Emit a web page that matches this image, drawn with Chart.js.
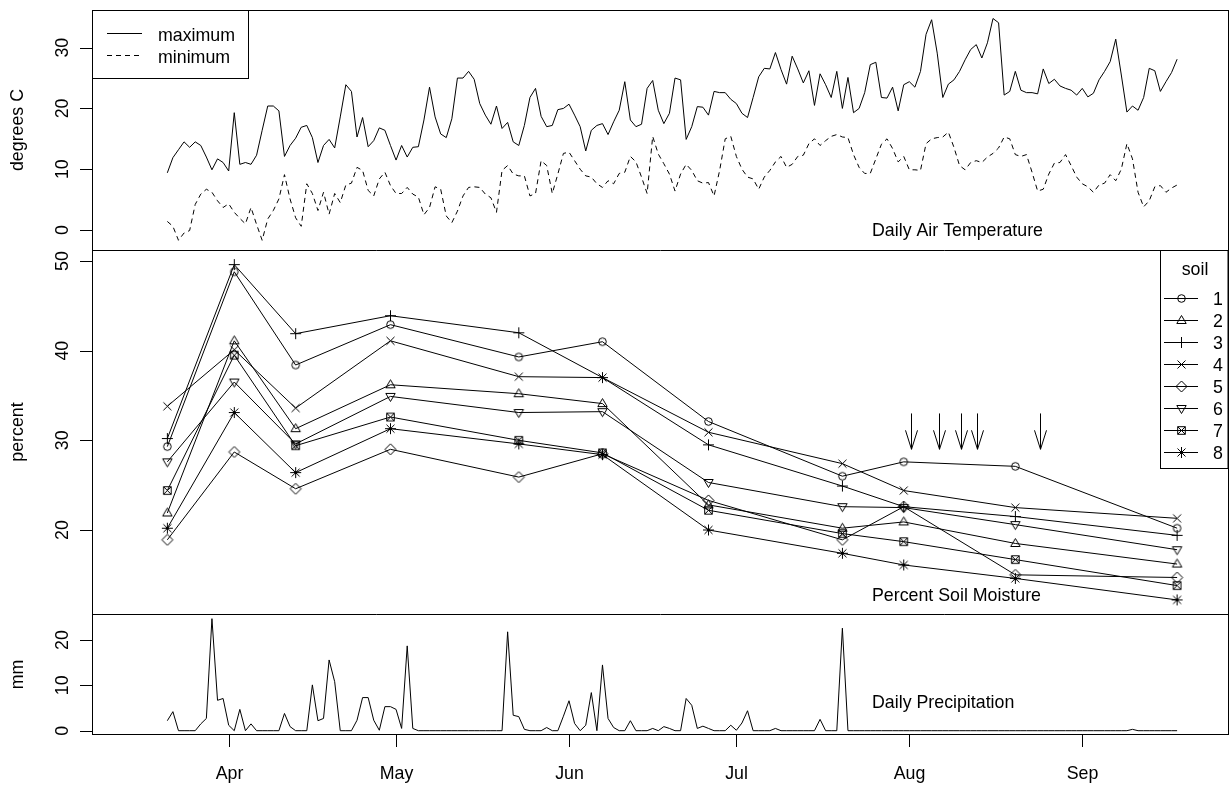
<!DOCTYPE html>
<html><head><meta charset="utf-8">
<script src="https://cdn.jsdelivr.net/npm/chart.js@4.4.1/dist/chart.umd.min.js"></script>
<style>html,body{margin:0;padding:0;background:#fff;} canvas{display:block;}</style>
</head><body>
<canvas id="c" width="1231" height="786"></canvas>
<script>
// ---- data ----
const FIRST_DAY = 80; // day of year of first daily value (21 March)
const tmax = [
 9.4, 11.9, 13.2, 14.5, 13.6, 14.5, 13.9, 12.0, 9.9, 11.7,
 11.1, 9.7, 19.3, 10.8, 11.1, 10.8, 12.3, 16.4, 20.4, 20.4,
 19.6, 12.1, 13.9, 15.1, 16.9, 17.2, 15.2, 11.1, 13.9, 14.9,
 13.5, 18.6, 23.9, 22.8, 15.3, 18.5, 13.7, 14.7, 16.8, 16.4,
 13.9, 11.5, 13.9, 12.0, 13.6, 13.7, 18.1, 23.5, 18.6, 15.8,
 15.2, 18.3, 25.0, 25.0, 26.1, 24.8, 20.8, 18.9, 17.4, 20.4,
 16.7, 17.7, 14.5, 13.9, 17.2, 21.8, 23.3, 18.7, 17.0, 17.2,
 19.8, 20.0, 20.7, 18.9, 17.0, 13.0, 16.4, 17.2, 17.5, 15.7,
 17.8, 19.7, 24.4, 18.1, 17.0, 17.4, 23.3, 24.6, 19.7, 17.5,
 19.2, 25.0, 24.7, 14.9, 17.0, 20.3, 20.2, 18.9, 22.8, 22.6,
 22.6, 21.5, 20.8, 19.2, 18.5, 21.8, 25.2, 26.6, 26.5, 29.2,
 26.4, 24.0, 28.6, 26.5, 24.2, 26.2, 20.5, 25.7, 23.9, 21.8,
 26.1, 20.0, 25.1, 19.3, 20.0, 22.6, 27.2, 27.6, 21.8, 21.7,
 23.5, 19.6, 23.9, 24.4, 23.5, 26.1, 32.2, 34.6, 29.1, 21.8,
 24.0, 24.7, 26.1, 28.0, 29.7, 30.5, 28.3, 30.8, 34.8, 34.1,
 22.2, 22.8, 26.1, 23.0, 22.6, 22.6, 22.4, 26.5, 24.1, 24.8,
 23.7, 23.3, 23.0, 22.2, 23.3, 21.9, 22.5, 24.7, 26.1, 27.7,
 31.4, 25.5, 19.4, 20.4, 19.7, 21.8, 26.6, 26.2, 22.8, 24.4,
 25.9, 28.1
];
const tmin = [
 1.4, 0.6, -1.7, -0.5, -0.1, 4.2, 5.9, 6.7, 6.2, 4.8,
 3.7, 4.3, 2.9, 1.9, 1.0, 3.7, 0.9, -1.7, 1.8, 3.2,
 5.1, 9.1, 5.1, 2.0, 0.6, 7.6, 6.0, 3.2, 6.2, 2.6,
 6.0, 4.5, 7.4, 7.7, 10.3, 9.8, 6.5, 5.6, 8.4, 9.5,
 7.3, 6.0, 6.0, 7.0, 5.9, 5.4, 2.5, 3.7, 7.1, 6.7,
 2.3, 1.2, 3.1, 5.6, 7.0, 7.1, 7.0, 5.9, 5.3, 2.9,
 9.8, 10.6, 9.2, 8.9, 8.9, 5.6, 6.0, 11.4, 10.6, 6.0,
 9.2, 12.6, 12.8, 11.4, 10.0, 8.9, 8.7, 7.6, 7.0, 8.1,
 7.6, 9.3, 9.5, 12.1, 11.2, 8.7, 6.0, 15.4, 12.5, 10.9,
 9.2, 6.4, 9.2, 10.8, 9.8, 8.1, 7.7, 7.8, 5.6, 9.8,
 15.0, 15.4, 12.1, 10.0, 8.7, 8.4, 6.7, 8.7, 9.8, 11.2,
 12.1, 10.3, 10.8, 12.1, 12.3, 14.2, 15.0, 13.9, 14.7, 15.4,
 15.7, 15.3, 15.2, 12.4, 10.3, 9.3, 9.3, 11.7, 14.1, 15.0,
 13.4, 11.2, 12.1, 9.9, 9.9, 9.8, 14.2, 15.0, 15.2, 15.3,
 16.1, 13.6, 10.6, 9.9, 11.1, 11.4, 11.1, 12.0, 12.6, 13.5,
 15.3, 15.0, 12.4, 12.1, 12.4, 9.5, 6.4, 6.7, 9.2, 11.0,
 11.1, 12.4, 10.6, 8.7, 7.6, 7.1, 6.2, 7.4, 7.7, 9.1,
 8.1, 10.0, 14.2, 11.7, 6.2, 3.8, 4.8, 7.1, 7.3, 6.2,
 6.9, 7.4
];
const precip = [
 2.2, 4.2, 0, 0, 0, 0, 1.5, 2.7, 24.7, 6.7,
 7.1, 1.2, 0, 4.7, 0, 1.5, 0, 0, 0, 0,
 0, 3.8, 0.9, 0, 0, 0, 10.1, 2.2, 2.7, 15.6,
 10.8, 0, 0, 0, 2.3, 7.3, 7.3, 2.3, 0.1, 5.3,
 5.3, 4.7, 0.5, 18.7, 0.5, 0, 0, 0, 0, 0,
 0, 0, 0, 0, 0, 0, 0, 0, 0, 0,
 0, 21.8, 3.4, 3.1, 0.3, 0, 0, 0, 0.7, 0,
 0, 3.2, 6.6, 1.6, 0, 1.2, 8.4, 0, 14.5, 2.7,
 0.7, 0, 0, 2.2, 0, 0, 0, 0.5, 0, 0.9,
 0.5, 0, 0, 7.1, 5.6, 0.5, 1.0, 0.5, 0, 0,
 0, 1.2, 0.1, 1.7, 4.4, 0, 0, 0, 0, 0.5,
 0, 0, 0, 0, 0, 0, 0, 2.5, 0, 0,
 0, 22.6, 0, 0, 0, 0, 0, 0, 0, 0,
 0, 0, 0, 0, 0, 0, 0, 0, 0, 0,
 0, 0, 0, 0, 0, 0, 0, 0, 0, 0,
 0, 0, 0, 0, 0, 0, 0, 0, 0, 0,
 0, 0, 0, 0, 0, 0, 0, 0, 0, 0,
 0, 0, 0, 0.3, 0, 0, 0, 0, 0, 0,
 0, 0
];
const soilDays = [80, 92, 103, 120, 143, 158, 177, 201, 212, 232, 261];
const soil1 = [29.3, 48.8, 38.4, 42.9, 39.3, 41.0, 32.1, 26.0, 27.6, 27.1, 20.2];
const soil2 = [21.9, 41.1, 31.3, 36.2, 35.2, 34.1, 22.8, 20.2, 20.9, 18.5, 16.2];
const soil3 = [30.2, 49.6, 41.9, 43.9, 42.0, 37.0, 29.5, 24.9, 22.6, 21.5, 19.4];
const soil4 = [33.8, 40.1, 33.6, 41.1, 37.1, 37.0, 30.9, 27.4, 24.4, 22.5, 21.3];
const soil5 = [18.9, 28.7, 24.6, 29.0, 25.9, 28.5, 23.3, 18.9, 22.6, 15.0, 14.7];
const soil6 = [27.6, 36.5, 29.6, 34.9, 33.1, 33.2, 25.3, 22.6, 22.5, 20.6, 17.8];
const soil7 = [24.4, 39.5, 29.4, 32.6, 30.0, 28.6, 22.2, 19.6, 18.7, 16.7, 13.8];
const soil8 = [20.2, 33.1, 26.4, 31.3, 29.6, 28.4, 20.0, 17.4, 16.1, 14.6, 12.2];
const soilNames = ['1', '2', '3', '4', '5', '6', '7', '8'];
const monthTickDays = [91, 121, 152, 182, 213, 244];
const monthLabels = ['Apr', 'May', 'Jun', 'Jul', 'Aug', 'Sep'];
const tempTicks = [0, 10, 20, 30];
const moistTicks = [20, 30, 40, 50];
const precipTicks = [0, 10, 20];
const arrowDays = [213.3, 218.4, 222.3, 225.2, 236.4];
const arrowTop = 33.0, arrowTip = 29.0;

// ---- symbols (R pch 1..8) ----
function drawSymbol(ctx, kind, x, y) {
  ctx.save();
  ctx.strokeStyle = '#000'; ctx.lineWidth = 1;
  ctx.beginPath();
  switch (kind) {
    case 1: ctx.arc(x, y, 3.8, 0, 2 * Math.PI); break;
    case 2: ctx.moveTo(x, y - 5); ctx.lineTo(x + 4.7, y + 3); ctx.lineTo(x - 4.7, y + 3); ctx.closePath(); break;
    case 3: ctx.moveTo(x - 5.5, y); ctx.lineTo(x + 5.5, y); ctx.moveTo(x, y - 5.5); ctx.lineTo(x, y + 5.5); break;
    case 4: ctx.moveTo(x - 4, y - 4); ctx.lineTo(x + 4, y + 4); ctx.moveTo(x - 4, y + 4); ctx.lineTo(x + 4, y - 4); break;
    case 5: ctx.moveTo(x, y - 5.5); ctx.lineTo(x + 5.5, y); ctx.lineTo(x, y + 5.5); ctx.lineTo(x - 5.5, y); ctx.closePath(); break;
    case 6: ctx.moveTo(x, y + 5); ctx.lineTo(x + 4.7, y - 3); ctx.lineTo(x - 4.7, y - 3); ctx.closePath(); break;
    case 7: ctx.rect(x - 3.8, y - 3.8, 7.6, 7.6);
            ctx.moveTo(x - 3.8, y - 3.8); ctx.lineTo(x + 3.8, y + 3.8);
            ctx.moveTo(x - 3.8, y + 3.8); ctx.lineTo(x + 3.8, y - 3.8); break;
    case 8: ctx.moveTo(x - 5.5, y); ctx.lineTo(x + 5.5, y); ctx.moveTo(x, y - 5.5); ctx.lineTo(x, y + 5.5);
            ctx.moveTo(x - 4, y - 4); ctx.lineTo(x + 4, y + 4); ctx.moveTo(x - 4, y + 4); ctx.lineTo(x + 4, y - 4); break;
  }
  ctx.stroke();
  ctx.restore();
}
function makeSymbol(kind) {
  const c = document.createElement('canvas');
  c.width = 15; c.height = 15;
  drawSymbol(c.getContext('2d'), kind, 7.5, 7.5);
  return c;
}

const daily = arr => arr.map((v, i) => ({x: FIRST_DAY + i, y: v}));
const atSoilDays = arr => arr.map((v, i) => ({x: soilDays[i], y: v}));
const soilSeries = [soil1, soil2, soil3, soil4, soil5, soil6, soil7, soil8];

const datasets = [
  {label: 'maximum', data: daily(tmax), yAxisID: 'yT', borderColor: '#000', borderWidth: 1, pointRadius: 0},
  {label: 'minimum', data: daily(tmin), yAxisID: 'yT', borderColor: '#000', borderWidth: 1, borderDash: [5, 4], pointRadius: 0},
  {label: 'precip', data: daily(precip), yAxisID: 'yB', borderColor: '#000', borderWidth: 1, pointRadius: 0}
];
soilSeries.forEach((s, i) => {
  datasets.push({
    label: soilNames[i], data: atSoilDays(s), yAxisID: 'yM',
    borderColor: '#000', borderWidth: 1,
    pointStyle: makeSymbol(i + 1), pointRadius: 4
  });
});

const FONT = '17.8px "Liberation Sans", Arial, sans-serif';

const decor = {
  id: 'decor',
  afterDatasetsDraw(chart) {
    const ctx = chart.ctx;
    const {left, right, top, bottom} = chart.chartArea;
    const xs = chart.scales.x, yT = chart.scales.yT, yM = chart.scales.yM, yB = chart.scales.yB;
    const px = v => Math.round(v) + 0.5;
    ctx.save();
    ctx.strokeStyle = '#000'; ctx.fillStyle = '#000'; ctx.lineWidth = 1;
    ctx.font = FONT;
    // outer box + separators
    ctx.strokeRect(px(left), px(top), Math.round(right) - Math.round(left) - 1, Math.round(bottom) - Math.round(top) - 1);
    [yM.top, yB.top].forEach(yy => {
      ctx.beginPath(); ctx.moveTo(left, px(yy)); ctx.lineTo(right, px(yy)); ctx.stroke();
    });
    // y ticks + rotated labels
    [[yT, tempTicks], [yM, moistTicks], [yB, precipTicks]].forEach(([sc, ticks]) => {
      ticks.forEach(v => {
        const y = px(sc.getPixelForValue(v));
        ctx.beginPath(); ctx.moveTo(left - 12, y); ctx.lineTo(left, y); ctx.stroke();
        ctx.save();
        ctx.translate(68, sc.getPixelForValue(v));
        ctx.rotate(-Math.PI / 2);
        ctx.textAlign = 'center'; ctx.textBaseline = 'alphabetic';
        ctx.fillText(String(v), 0, 0);
        ctx.restore();
      });
    });
    // y titles
    [[yT, 'degrees C'], [yM, 'percent'], [yB, 'mm']].forEach(([sc, t]) => {
      ctx.save();
      ctx.translate(23, (sc.top + sc.bottom) / 2);
      ctx.rotate(-Math.PI / 2);
      ctx.textAlign = 'center'; ctx.textBaseline = 'alphabetic';
      ctx.fillText(t, 0, 0);
      ctx.restore();
    });
    // x ticks + labels
    monthTickDays.forEach((d, i) => {
      const x = px(xs.getPixelForValue(d));
      ctx.beginPath(); ctx.moveTo(x, bottom); ctx.lineTo(x, bottom + 12); ctx.stroke();
      ctx.textAlign = 'center'; ctx.textBaseline = 'alphabetic';
      ctx.fillText(monthLabels[i], x, 779);
    });
    // panel titles
    ctx.textAlign = 'left'; ctx.textBaseline = 'alphabetic';
    ctx.fillText('Daily Air Temperature', 872, 236);
    ctx.fillText('Percent Soil Moisture', 872, 601);
    ctx.fillText('Daily Precipitation', 872, 708);
    // temperature legend
    ctx.strokeRect(px(left), px(top), 156, 68);
    ctx.beginPath(); ctx.moveTo(107, 33.5); ctx.lineTo(142, 33.5); ctx.stroke();
    ctx.save(); ctx.setLineDash([5, 4]);
    ctx.beginPath(); ctx.moveTo(107, 55.5); ctx.lineTo(142, 55.5); ctx.stroke();
    ctx.restore();
    ctx.fillText('maximum', 158, 41);
    ctx.fillText('minimum', 158, 63);
    // soil legend
    const lx = 1160.5, ly = px(yM.top);
    ctx.strokeRect(lx, ly, Math.round(right) - 1 - lx, 468.5 - ly);
    ctx.textAlign = 'center';
    ctx.fillText('soil', 1195, 275);
    ctx.textAlign = 'left';
    soilNames.forEach((n, i) => {
      const y = 298 + 22 * i;
      ctx.beginPath(); ctx.moveTo(1164, y + 0.5); ctx.lineTo(1198, y + 0.5); ctx.stroke();
      drawSymbol(ctx, i + 1, 1181.5, y + 0.5);
      ctx.fillText(n, 1213, y + 6.5);
    });
    // arrows
    arrowDays.forEach(d => {
      const x = px(xs.getPixelForValue(d));
      const y1 = yM.getPixelForValue(arrowTop), y2 = yM.getPixelForValue(arrowTip);
      ctx.beginPath();
      ctx.moveTo(x, y1); ctx.lineTo(x, y2);
      ctx.moveTo(x - 6, y2 - 19); ctx.lineTo(x, y2); ctx.lineTo(x + 6, y2 - 19);
      ctx.stroke();
    });
    ctx.restore();
  }
};

new Chart(document.getElementById('c'), {
  type: 'line',
  data: {datasets},
  options: {
    responsive: false, animation: false, devicePixelRatio: 1,
    layout: {autoPadding: false, padding: {left: 92, top: 10, right: 2, bottom: 51}},
    plugins: {legend: {display: false}, tooltip: {enabled: false}},
    elements: {line: {tension: 0, fill: false}},
    scales: {
      x: {type: 'linear', min: 66.5, max: 270.3, display: false, bounds: 'data'},
      yB: {type: 'linear', position: 'left', stack: 'panels', stackWeight: 121, min: -0.95, max: 25.73, display: false, bounds: 'data'},
      yM: {type: 'linear', position: 'left', stack: 'panels', stackWeight: 364, min: 10.63, max: 51.23, display: false, bounds: 'data'},
      yT: {type: 'linear', position: 'left', stack: 'panels', stackWeight: 240, min: -3.3, max: 36.2, display: false, bounds: 'data'}
    }
  },
  plugins: [decor]
});
</script>
</body></html>
